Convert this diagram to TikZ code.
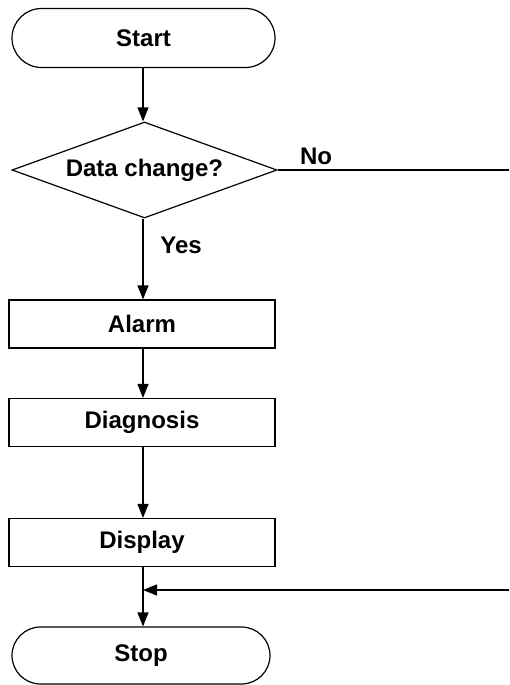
\documentclass[tikz,border=0pt]{standalone}
\usepackage{fontspec}
\setmainfont{Liberation Sans}
\usetikzlibrary{shapes.geometric,shapes.misc,arrows.meta}
\begin{document}
\begin{tikzpicture}[x=1pt,y=-1pt,
  every node/.style={font=\fontsize{24}{28}\selectfont\bfseries},
  term/.style={draw, rounded rectangle, line width=1.2pt, minimum width=263pt, minimum height=59pt, inner sep=0pt},
  proc/.style={draw, rectangle, line width=1.2pt, minimum width=266pt, minimum height=48pt, inner sep=0pt},
  decide/.style={draw, diamond, line width=1.2pt, minimum width=265pt, minimum height=96pt, inner sep=0pt, aspect=2.76},
  conn/.style={line width=1.2pt},
  arr/.style={conn, -{Triangle[length=14pt,width=11pt]}},
  lbl/.style={inner sep=0pt}]
\useasboundingbox[fill=white] (0,0) rectangle (509,685);
\node[term] (start) at (143.5,38) {Start};
\node[decide] (dec) at (144.5,170) {Data change?};
\node[proc] (alarm) at (142,324) {Alarm};
\node[proc] (diag) at (142,422.5) {Diagnosis};
\node[proc] (disp) at (142,542.5) {Display};
\node[term, minimum width=258pt, minimum height=57pt] (stop) at (141,655.5) {Stop};
\coordinate (noend) at (509,170);
\coordinate (retstart) at (509,590);
\coordinate (join) at (143,590);
\node[lbl] (nolbl) at (316,156) {No};
\node[lbl] (yeslbl) at (181,245) {Yes};
\draw[arr] (start.south -| 143,0) -- (dec.north -| 143,0);
\draw[arr] (dec.south -| 143,0) -- (alarm.north -| 143,0);
\draw[arr] (alarm.south -| 143,0) -- (diag.north -| 143,0);
\draw[arr] (diag.south -| 143,0) -- (disp.north -| 143,0);
\draw[arr] (disp.south -| 143,0) -- (stop.north -| 143,0);
\draw[conn] (dec.east) -- (noend);
\draw[arr] (retstart) -- (join);
\end{tikzpicture}
\end{document}
